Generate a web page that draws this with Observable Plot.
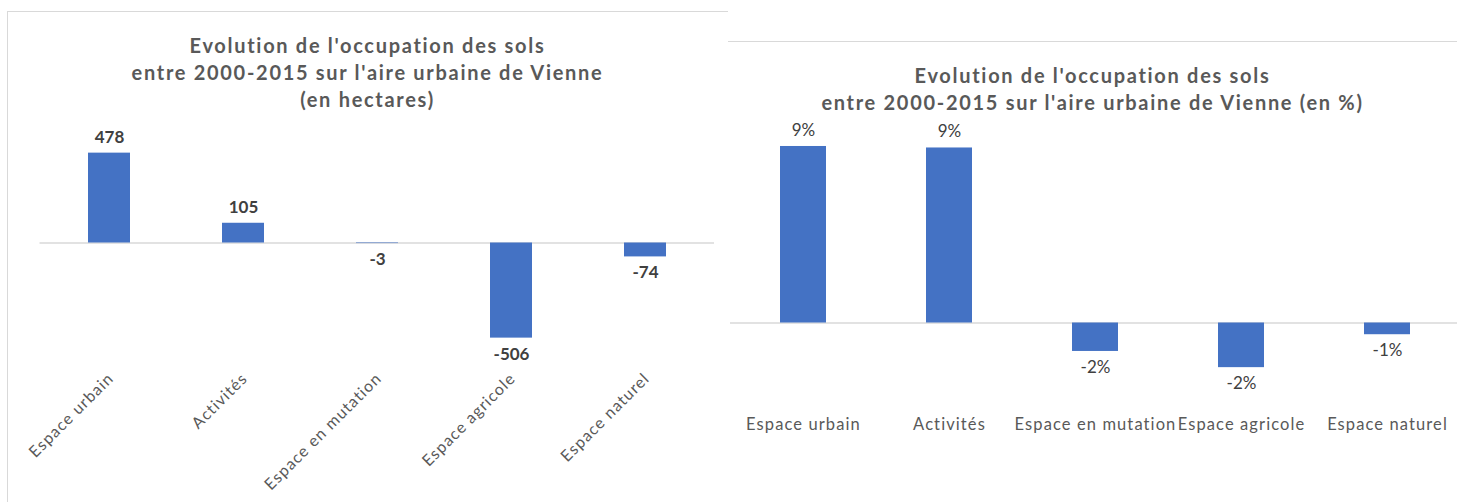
<!DOCTYPE html>
<html><head><meta charset="utf-8">
<script src="https://cdn.jsdelivr.net/npm/d3@7"></script>
<script src="https://cdn.jsdelivr.net/npm/@observablehq/plot@0.6"></script>
<style>
body{margin:0;width:1457px;height:502px;overflow:hidden;background:#fff;font-family:Lato,"Open Sans",sans-serif;position:relative}
.frame{position:absolute;border-top:1.5px solid #d9d9d9;box-sizing:border-box}
.title{position:absolute;text-align:center;font-weight:bold;color:#595959;font-size:20px;line-height:27px;letter-spacing:1.7px}
.plot{position:absolute}
svg{overflow:visible}
.cat{letter-spacing:1.1px}
</style></head><body>
<div class="frame" style="left:7px;top:11px;width:721px;height:491px;border-left:1.5px solid #d9d9d9"></div>
<div class="frame" style="left:728px;top:41px;width:729px;height:2px"></div>
<div class="title" style="left:7px;top:32px;width:721px">Evolution de l'occupation des sols<br>entre 2000-2015 sur l'aire urbaine de Vienne<br>(en hectares)</div>
<div class="title" style="left:728px;top:62px;width:729px">Evolution de l'occupation des sols<br>entre 2000-2015 sur l'aire urbaine de Vienne (en %)</div>
<div class="plot" id="p1" style="left:0;top:120px"></div>
<div class="plot" id="p2" style="left:728px;top:110px"></div>
<script>
const categories = ["Espace urbain", "Activités", "Espace en mutation", "Espace agricole", "Espace naturel"];
const hectares = [478, 105, -3, -506, -74];
const percents = [9.49, 9.41, -1.53, -2.40, -0.63];

const blue = "#4472C4";
const font = "Lato, 'Open Sans', sans-serif";

const rows1 = categories.map((c, i) => ({c, v: hectares[i]}));
const rows2 = categories.map((c, i) => ({c, v: percents[i]}));

const p1 = Plot.plot({
  width: 728, height: 382,
  marginLeft: 39.5, marginRight: 14, marginTop: 0, marginBottom: 122,
  x: {domain: categories, range: [39.5, 714], paddingInner: 0.69, paddingOuter: 0.345, axis: null},
  y: {domain: [-600, 600], range: [235.3, 9.7], axis: null},
  style: {fontFamily: font, background: "transparent", overflow: "visible"},
  marks: [
    Plot.ruleY([0], {stroke: "#d9d9d9", strokeWidth: 1.5}),
    Plot.barY(rows1, {x: "c", y: "v", fill: blue}),
    Plot.text(rows1.filter(d => d.v >= 0), {x: "c", y: "v", text: d => String(d.v), dy: -16, fontWeight: "bold", fontSize: 17, fill: "#404040"}),
    Plot.text(rows1.filter(d => d.v < 0), {x: "c", y: "v", text: d => String(d.v), dy: 16, fontWeight: "bold", fontSize: 17, fill: "#404040"}),
    Plot.text(categories, {x: d => d, frameAnchor: "bottom", rotate: -45, textAnchor: "end", dx: 5, dy: -1, fontSize: 16, fill: "#595959", className: "cat"})
  ]
});
document.getElementById("p1").appendChild(p1);

const fmt = d3.format(".0f");
const p2 = Plot.plot({
  width: 729, height: 392,
  marginLeft: 2, marginRight: 0, marginTop: 0, marginBottom: 73,
  x: {domain: categories, range: [2, 732], paddingInner: 0.685, paddingOuter: 0.3425, axis: null},
  y: {domain: [-10, 10], range: [398.5, 26.5], axis: null},
  style: {fontFamily: font, background: "transparent", overflow: "visible"},
  marks: [
    Plot.ruleY([0], {stroke: "#d9d9d9", strokeWidth: 1.5}),
    Plot.barY(rows2, {x: "c", y: "v", fill: blue}),
    Plot.text(rows2.filter(d => d.v >= 0), {x: "c", y: "v", text: d => fmt(d.v) + "%", dy: -16, fontSize: 17, fill: "#404040"}),
    Plot.text(rows2.filter(d => d.v < 0), {x: "c", y: "v", text: d => fmt(d.v).replace("−", "-") + "%", dy: 16, fontSize: 17, fill: "#404040"}),
    Plot.text(categories, {x: d => d, frameAnchor: "bottom", fontSize: 16.5, fill: "#595959", className: "cat"})
  ]
});
document.getElementById("p2").appendChild(p2);
</script>
</body></html>
